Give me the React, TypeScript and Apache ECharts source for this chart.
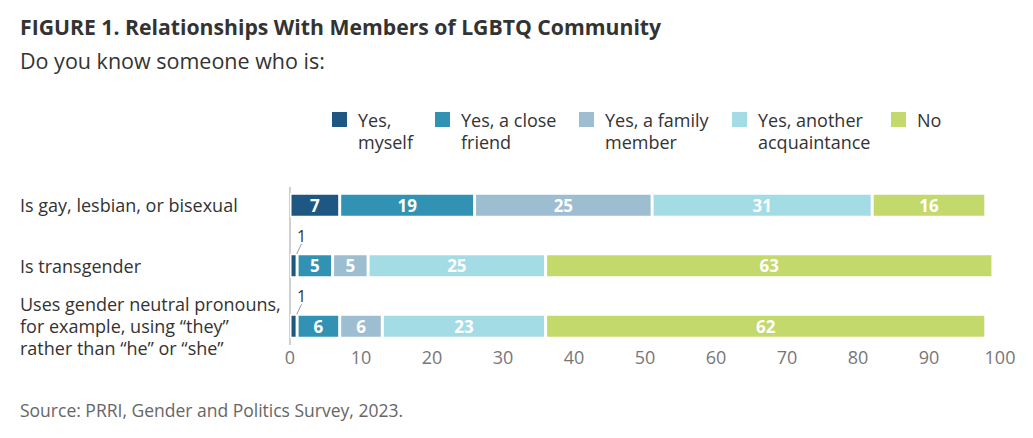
import React, { useEffect, useRef } from "react";
import * as echarts from "echarts";

const categories = [
  "Is gay, lesbian, or bisexual",
  "Is transgender",
  "Uses gender neutral pronouns,\nfor example, using “they”\nrather than “he” or “she”",
];
const seriesNames = ["Yes, myself", "Yes, a close friend", "Yes, a family member", "Yes, another acquaintance", "No"];
const legendLabels = ["Yes,\nmyself", "Yes, a close\nfriend", "Yes, a family\nmember", "Yes, another\nacquaintance", "No"];
const colors = ["#1d5782", "#3192b3", "#9dbdd1", "#a4dce5", "#c3d96c"];
const yesMyself = [7, 1, 1];
const closeFriend = [19, 5, 6];
const familyMember = [25, 5, 6];
const acquaintance = [31, 25, 23];
const noValues = [16, 63, 62];
const xTicks = [0, 10, 20, 30, 40, 50, 60, 70, 80, 90, 100];

const FONT = "'Open Sans', 'Noto Sans', sans-serif";

export default function App() {
  const ref = useRef<HTMLDivElement>(null);
  useEffect(() => {
    document.body.style.margin = "0";
    const chart = echarts.init(ref.current!, null, { renderer: "svg" });
    const allValues = [yesMyself, closeFriend, familyMember, acquaintance, noValues];
    const legendX = [332, 435, 579, 732, 891];

    const series: any[] = allValues.map((vals, si) => ({
      name: seriesNames[si],
      type: "bar",
      stack: "total",
      barWidth: 24,
      itemStyle: { color: colors[si], borderColor: "#ffffff", borderWidth: 1.5 },
      label: {
        show: true,
        position: "inside",
        color: "#ffffff",
        fontFamily: FONT,
        fontWeight: "bold",
        fontSize: 17,
      },
      labelLine: { show: true, lineStyle: { color: "#999999", width: 1 } },
      labelLayout: (p: any) => {
        if (si === 0 && vals[p.dataIndex] < 3) return { dx: 8, dy: -3 };
        return {};
      },
      data: vals.map((v) =>
        si === 0 && v < 3
          ? {
              value: v,
              label: {
                position: "top",
                distance: 7,
                color: "#333333",
                fontWeight: "normal",
                fontSize: 16,
              },
            }
          : { value: v }
      ),
    }));

    const legendGraphics: any[] = [];
    legendLabels.forEach((lab, i) => {
      legendGraphics.push({
        type: "rect",
        left: legendX[i],
        top: 112,
        shape: { width: 15, height: 15 },
        style: { fill: colors[i] },
      });
      legendGraphics.push({
        type: "text",
        left: legendX[i] + 26,
        top: 109,
        style: {
          text: lab,
          fill: "#333333",
          font: `18px ${FONT}`,
          lineHeight: 22,
        },
      });
    });

    chart.setOption({
      animation: false,
      grid: { left: 290, right: 33, top: 175, height: 181.5 },
      xAxis: {
        type: "value",
        min: 0,
        max: 100,
        interval: 10,
        axisLine: { show: false },
        axisTick: { show: false },
        splitLine: { show: false },
        axisLabel: {
          margin: -9,
          color: "#777777",
          fontFamily: FONT,
          fontSize: 18,
          customValues: xTicks,
        },
      },
      yAxis: {
        type: "category",
        inverse: true,
        data: categories,
        axisLine: { show: false },
        axisTick: { show: false },
        axisLabel: {
          align: "left",
          margin: 270,
          color: "#333333",
          fontFamily: FONT,
          fontSize: 18,
          lineHeight: 22,
        },
      },
      series,
      graphic: [
        {
          type: "text",
          left: 20,
          top: 16,
          style: {
            text: "FIGURE 1. Relationships With Members of LGBTQ Community",
            fill: "#333333",
            font: `bold 21.2px ${FONT}`,
          },
        },
        {
          type: "text",
          left: 20,
          top: 49,
          style: {
            text: "Do you know someone who is:",
            fill: "#333333",
            font: `21.5px ${FONT}`,
          },
        },
        {
          type: "line",
          shape: { x1: 290, y1: 187, x2: 290, y2: 345 },
          style: { stroke: "#d0d0d0", lineWidth: 2 },
        },
        {
          type: "text",
          left: 20,
          top: 401,
          style: {
            text: "Source: PRRI, Gender and Politics Survey, 2023.",
            fill: "#666666",
            font: `17.5px ${FONT}`,
          },
        },
        ...legendGraphics,
      ],
    });
    return () => chart.dispose();
  }, []);
  return <div ref={ref} style={{ width: 1033, height: 438 }} />;
}
